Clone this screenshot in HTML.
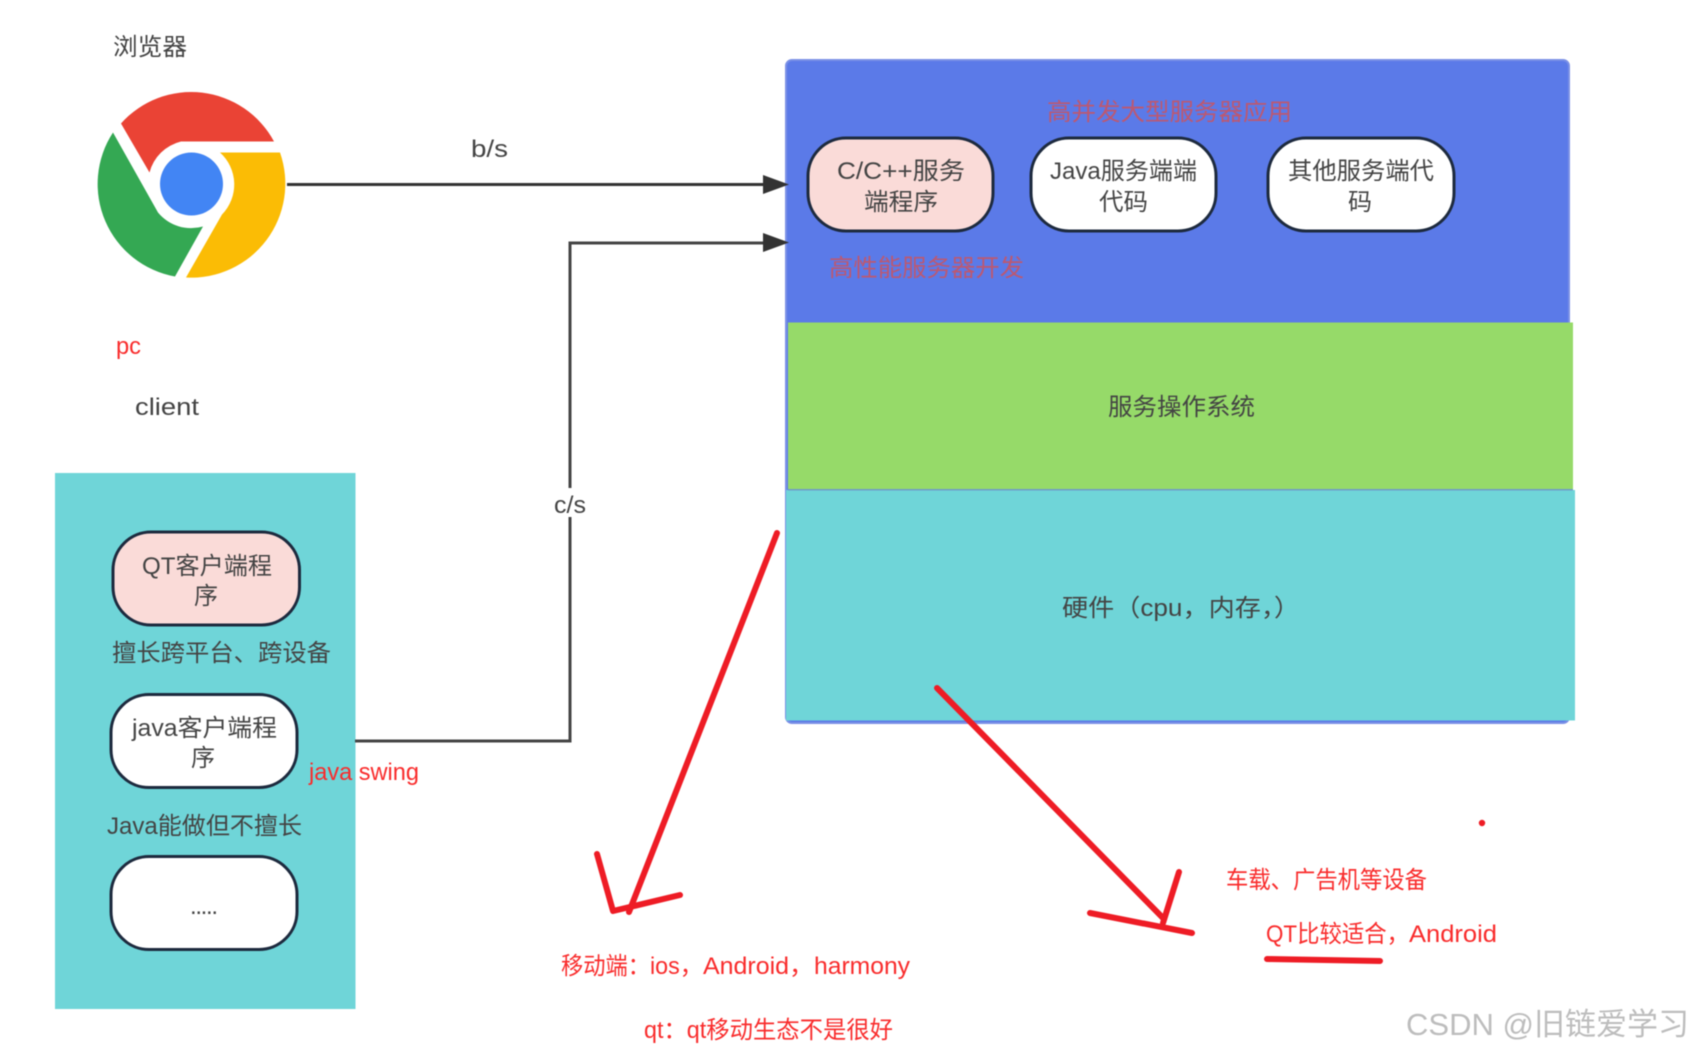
<!DOCTYPE html>
<html><head><meta charset="utf-8"><style>
html,body{margin:0;padding:0;background:#fff;width:1693px;height:1055px;overflow:hidden}
svg{display:block;filter:blur(.4px)}
text{font-family:"Liberation Sans","Noto Sans CJK SC",sans-serif;font-size:24px;fill:#444}
.r{fill:#f92c2c}.m{fill:#bd5870}
</style></head><body>
<svg width="1693" height="1055" viewBox="0 0 1693 1055" xmlns="http://www.w3.org/2000/svg">
<rect width="1693" height="1055" fill="#fff"/>
<!-- chrome -->
<g transform="translate(0,-0.5)">
<path d="M121,124 A94,94 0 0 1 274,142 L181,142 A43,43 0 0 0 149.5,173 Z" fill="#ea4335"/>
<path d="M220,153 L280,153 A94,94 0 0 1 186,278 L222,215 A43,43 0 0 0 220,153 Z" fill="#fbbc05"/>
<path d="M113,133 A94,94 0 0 0 175,277 L203,227 A43,43 0 0 1 158,213 Z" fill="#34a853"/>
<circle cx="191.5" cy="184.5" r="31.5" fill="#4285f4"/>
</g>
<!-- server -->
<rect x="786" y="60" width="783" height="663" rx="6" fill="#5b7ae8" stroke="#7a90e6" stroke-width="2"/>
<rect x="788" y="322.5" width="785" height="166.5" fill="#96da69"/>
<rect x="786" y="490" width="789" height="230.5" fill="#6fd5d8"/>
<rect x="788" y="489" width="785" height="1.5" fill="#6f9bc8"/>
<rect x="808" y="138" width="185" height="93" rx="38" fill="#fadbd8" stroke="#1d2a3e" stroke-width="3"/>
<rect x="1031" y="138" width="185" height="93" rx="38" fill="#fff" stroke="#1d2a3e" stroke-width="3"/>
<rect x="1268" y="138" width="186" height="93" rx="38" fill="#fff" stroke="#1d2a3e" stroke-width="3"/>
<!-- client -->
<rect x="55" y="473" width="300.5" height="536" fill="#6fd5d8"/>
<rect x="113" y="532" width="186.5" height="93" rx="38" fill="#fadbd8" stroke="#1d2a3e" stroke-width="3"/>
<rect x="111" y="694.5" width="186" height="93" rx="38" fill="#fff" stroke="#1d2a3e" stroke-width="3"/>
<rect x="111" y="856.5" width="186" height="93" rx="38" fill="#fff" stroke="#1d2a3e" stroke-width="3"/>
<!-- connectors -->
<path d="M287,184.5 H765" fill="none" stroke="#333" stroke-width="3"/>
<polygon points="763,175 789,184.5 763,194" fill="#333"/>
<path d="M355,741 H570 V243 H765" fill="none" stroke="#444" stroke-width="3"/>
<polygon points="763,233 789,242.5 763,252" fill="#333"/>
<rect x="553" y="488" width="34" height="29" fill="#fff"/>
<!-- text -->
<text x="113" y="55" textLength="74" lengthAdjust="spacingAndGlyphs">浏览器</text>
<text x="471" y="157" textLength="37" lengthAdjust="spacingAndGlyphs">b/s</text>
<text x="116" y="354" textLength="25" lengthAdjust="spacingAndGlyphs" class="r">pc</text>
<text x="135" y="415" textLength="64" lengthAdjust="spacingAndGlyphs">client</text>
<text x="554" y="513" textLength="32" lengthAdjust="spacingAndGlyphs">c/s</text>
<text x="1047" y="120" textLength="245" lengthAdjust="spacingAndGlyphs" class="m">高并发大型服务器应用</text>
<text x="829" y="276" textLength="195" lengthAdjust="spacingAndGlyphs" class="m">高性能服务器开发</text>
<text x="837" y="179" textLength="128" lengthAdjust="spacingAndGlyphs">C/C++服务</text>
<text x="864" y="210" textLength="74" lengthAdjust="spacingAndGlyphs">端程序</text>
<text x="1050" y="179" textLength="147" lengthAdjust="spacingAndGlyphs">Java服务端端</text>
<text x="1099" y="210" textLength="49" lengthAdjust="spacingAndGlyphs">代码</text>
<text x="1288" y="179" textLength="146" lengthAdjust="spacingAndGlyphs">其他服务端代</text>
<text x="1348" y="210">码</text>
<text x="1108" y="415" textLength="147" lengthAdjust="spacingAndGlyphs">服务操作系统</text>
<text x="1062" y="616" textLength="238" lengthAdjust="spacingAndGlyphs">硬件（cpu，内存，）</text>
<text x="142" y="574" textLength="130" lengthAdjust="spacingAndGlyphs">QT客户端程</text>
<text x="194" y="604">序</text>
<text x="112" y="661" textLength="219" lengthAdjust="spacingAndGlyphs">擅长跨平台、跨设备</text>
<text x="132" y="736" textLength="145" lengthAdjust="spacingAndGlyphs">java客户端程</text>
<text x="191" y="766">序</text>
<text x="309" y="780" textLength="110" lengthAdjust="spacingAndGlyphs" class="r">java swing</text>
<text x="107" y="834" textLength="195" lengthAdjust="spacingAndGlyphs">Java能做但不擅长</text>
<text x="190" y="914" textLength="28" lengthAdjust="spacing">.....</text>
<text x="561" y="974" textLength="89" lengthAdjust="spacingAndGlyphs" class="r">移动端：</text>
<text x="650" y="974" textLength="53" lengthAdjust="spacingAndGlyphs" class="r">ios，</text>
<text x="703" y="974" textLength="111" lengthAdjust="spacingAndGlyphs" class="r">Android，</text>
<text x="814" y="974" textLength="96" lengthAdjust="spacingAndGlyphs" class="r">harmony</text>
<text x="644" y="1038" textLength="249" lengthAdjust="spacingAndGlyphs" class="r">qt：qt移动生态不是很好</text>
<text x="1226" y="888" textLength="201" lengthAdjust="spacingAndGlyphs" class="r">车载、广告机等设备</text>
<text x="1266" y="942" textLength="143" lengthAdjust="spacingAndGlyphs" class="r">QT比较适合，</text>
<text x="1409" y="942" textLength="88" lengthAdjust="spacingAndGlyphs" class="r">Android</text>
<text x="1406" y="1035" textLength="283" lengthAdjust="spacingAndGlyphs" style="font-size:31px;fill:#bdbdbd">CSDN @旧链爱学习</text>
<!-- red marks -->
<g fill="none" stroke="#ee1c25" stroke-width="6" stroke-linecap="round" stroke-linejoin="round">
<path d="M777,533 L629,912"/>
<path d="M597,854 L613,911 L680,895"/>
<path d="M937,688 L1163,918"/>
<path d="M1179,872 L1163,923"/>
<path d="M1090,913 L1192,933"/>
<path d="M1267,959 L1380,961"/>
</g>
<circle cx="1482" cy="823" r="3.2" fill="#ee1c25"/>
</svg>
</body></html>
